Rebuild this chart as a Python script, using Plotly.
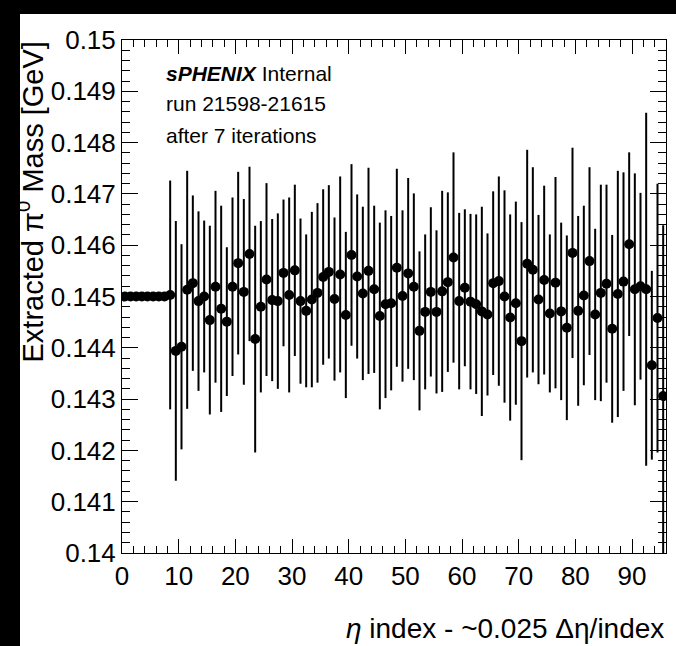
import plotly.graph_objects as go

# ---------------- data ----------------
eta_index = list(range(96))

mass = [
    0.145, 0.145, 0.145, 0.145, 0.145, 0.145, 0.145, 0.145,
    0.14503, 0.14394, 0.14402, 0.14513, 0.14526, 0.14491, 0.14500, 0.14454,
    0.14519, 0.14476, 0.14451, 0.14519, 0.14565, 0.14509, 0.14583, 0.14417,
    0.14480, 0.14533, 0.14493, 0.14491, 0.14546, 0.14503, 0.14551, 0.14491,
    0.14472, 0.14494, 0.14507, 0.14538, 0.14548, 0.14495, 0.14543, 0.14464,
    0.14581, 0.14539, 0.14506, 0.14550, 0.14514, 0.14462, 0.14485, 0.14487,
    0.14556, 0.14501, 0.14545, 0.14519, 0.14433, 0.14470, 0.14509, 0.14470,
    0.14510, 0.14528, 0.14576, 0.14491, 0.14517, 0.14490, 0.14485, 0.14471,
    0.14465, 0.14526, 0.14530, 0.14500, 0.14459, 0.14487, 0.14413, 0.14564,
    0.14552, 0.14494, 0.14532, 0.14467, 0.14527, 0.14471, 0.14439, 0.14585,
    0.14472, 0.14502, 0.14569, 0.14465, 0.14507, 0.14525, 0.14437, 0.14505,
    0.14529, 0.14602, 0.14514, 0.14520, 0.14514, 0.14366, 0.14458, 0.14306,
]

mass_err = [
    0, 0, 0, 0, 0, 0, 0, 0,
    0.00223, 0.00253, 0.00200, 0.00232, 0.00171, 0.00175, 0.00148, 0.00184,
    0.00187, 0.00201, 0.00145, 0.00174, 0.00178, 0.00181, 0.00170, 0.00221,
    0.00167, 0.00188, 0.00158, 0.00171, 0.00143, 0.00190, 0.00167, 0.00161,
    0.00149, 0.00171, 0.00175, 0.00171, 0.00169, 0.00159, 0.00191, 0.00162,
    0.00177, 0.00160, 0.00169, 0.00201, 0.00163, 0.00182, 0.00183, 0.00170,
    0.00193, 0.00167, 0.00186, 0.00182, 0.00155, 0.00151, 0.00165, 0.00159,
    0.00196, 0.00175, 0.00205, 0.00172, 0.00153, 0.00171, 0.00175, 0.00204,
    0.00158, 0.00179, 0.00204, 0.00207, 0.00201, 0.00198, 0.00232, 0.00222,
    0.00200, 0.00165, 0.00184, 0.00154, 0.00206, 0.00173, 0.00180, 0.00205,
    0.00185, 0.00175, 0.00183, 0.00167, 0.00211, 0.00193, 0.00183, 0.00240,
    0.00213, 0.00179, 0.00226, 0.00182, 0.00344, 0.00184, 0.00262, 0.00333,
]

x_tick_vals = [0, 10, 20, 30, 40, 50, 60, 70, 80, 90]
x_tick_labels = ["0", "10", "20", "30", "40", "50", "60", "70", "80", "90"]
y_tick_vals = [0.140, 0.141, 0.142, 0.143, 0.144, 0.145, 0.146, 0.147, 0.148, 0.149, 0.150]
y_tick_labels = ["0.14", "0.141", "0.142", "0.143", "0.144", "0.145",
                 "0.146", "0.147", "0.148", "0.149", "0.15"]

bin_centers = [i + 0.5 for i in eta_index]

# ---------------- figure ----------------
W, H = 676, 646
ML, MR, MT, MB = 122, 10, 40, 93
PW, PH = W - ML - MR, H - MT - MB

def px_x(p):
    return (p - ML) / PW

def px_y(p):
    return (H - MB - p) / PH

FONT = "Liberation Sans, Arial, Helvetica, sans-serif"

fig = go.Figure()
fig.add_trace(go.Scatter(
    x=bin_centers, y=mass, mode="markers",
    marker=dict(color="black", size=10, symbol="circle"),
    error_y=dict(type="data", array=mass_err, visible=True,
                 color="black", thickness=2, width=0),
    showlegend=False,
))

axis_common = dict(
    showline=True, linecolor="black", linewidth=1, mirror="ticks",
    ticks="inside", tickcolor="black", tickwidth=1,
    showgrid=False, zeroline=False,
    tickfont=dict(family=FONT, size=26, color="black"),
)

fig.update_xaxes(
    range=[0, 96], tickmode="array", tickvals=x_tick_vals, ticktext=x_tick_labels,
    ticklen=14,
    minor=dict(ticks="inside", ticklen=7, dtick=2, tick0=0, tickcolor="black", showgrid=False),
    **axis_common,
)
fig.update_yaxes(
    range=[0.14, 0.15], tickmode="array", tickvals=y_tick_vals, ticktext=y_tick_labels,
    ticklen=16,
    minor=dict(ticks="inside", ticklen=8, dtick=0.0002, tick0=0.14, tickcolor="black", showgrid=False),
    **axis_common,
)

# black page border of the original screenshot: black paper, white canvas on top
fig.add_shape(type="rect", xref="paper", yref="paper",
              x0=px_x(20), x1=px_x(W + 2), y0=px_y(H + 2), y1=px_y(14),
              fillcolor="white", line=dict(width=0), layer="below")

# axis titles
fig.add_annotation(
    text="Extracted π<sup>0</sup> Mass [GeV]", textangle=-90,
    xref="paper", yref="paper", x=px_x(50), y=1.0,
    xanchor="right", yanchor="top", showarrow=False,
    font=dict(family=FONT, size=29, color="black"),
)
fig.add_annotation(
    text="<i>η</i> index - ~0.025 Δη/index",
    xref="paper", yref="paper", x=1.0, y=px_y(628),
    xanchor="right", yanchor="middle", showarrow=False,
    font=dict(family=FONT, size=28, color="black"),
)

# labels
for txt, yp in [("<b><i>sPHENIX</i></b> Internal", 73),
                ("run 21598-21615", 103),
                ("after 7 iterations", 135)]:
    fig.add_annotation(
        text=txt, xref="paper", yref="paper", x=px_x(164), y=px_y(yp),
        xanchor="left", yanchor="middle", showarrow=False,
        font=dict(family=FONT, size=21, color="black"),
    )

fig.update_layout(
    width=W, height=H,
    margin=dict(l=ML, r=MR, t=MT, b=MB),
    paper_bgcolor="black", plot_bgcolor="white",
)

fig.write_html("out.html", config={"displayModeBar": False},
               post_script="document.body.style.margin='0px';")
